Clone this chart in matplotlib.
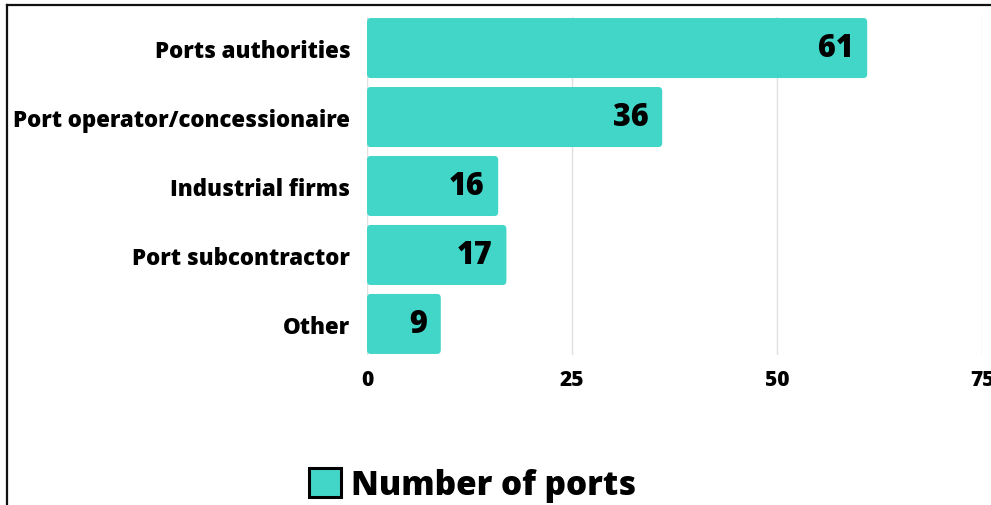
import matplotlib.pyplot as plt
from matplotlib.patches import FancyBboxPatch, Rectangle
from matplotlib.lines import Line2D

# data
categories = ["Ports authorities", "Port operator/concessionaire", "Industrial firms",
              "Port subcontractor", "Other"]
ports = [61, 36, 16, 17, 9]
xticks = [0, 25, 50, 75]

bar_color = "#42d6c9"
plt.rcParams["font.family"] = ["Open Sans", "DejaVu Sans"]
W = 800  # extra bold look

fig = plt.figure(figsize=(9.91, 5.06), dpi=100)
ax = fig.add_axes([367 / 991, 1 - 356 / 506, (982 - 367) / 991, 338 / 506])

bars = ax.barh(categories, ports, height=0.87, color=bar_color)
ax.set_xlim(0, 75)
ax.set_ylim(4.45, -0.45)

# swap the plain bars for ones with slightly rounded corners
for b in bars:
    x0, y0 = b.get_x(), b.get_y()
    w, h = b.get_width(), b.get_height()
    b.set_visible(False)
    ax.add_patch(FancyBboxPatch((x0, y0), w, h,
                                boxstyle="round,pad=0,rounding_size=0.45",
                                mutation_aspect=0.13, color=bar_color, lw=0, zorder=3))

for b, v in zip(bars, ports):
    ax.annotate(str(v), (b.get_width(), b.get_y() + b.get_height() / 2),
                xytext=(-10, 0), textcoords="offset points", ha="right", va="center",
                fontsize=22, fontweight=W, color="black", zorder=4)

ax.set_xticks(xticks)
ax.set_xticklabels([str(t) for t in xticks], fontsize=15, fontweight=W)
for lbl in ax.get_yticklabels():
    lbl.set_fontsize(16)
    lbl.set_fontweight(W)
ax.tick_params(axis="both", length=0)
ax.tick_params(axis="x", pad=10)
ax.tick_params(axis="y", pad=12)
ax.grid(axis="x", color="#e0e0e0", lw=1, zorder=0)
ax.set_axisbelow(True)
for s in ax.spines.values():
    s.set_visible(False)

# legend
handle = Rectangle((0, 0), 1, 1, facecolor=bar_color, edgecolor="black", lw=2.2)
fig.legend([handle], ["Number of ports"], loc="center", bbox_to_anchor=(0.477, 1 - 486 / 506),
           frameon=False, prop={"size": 24, "weight": W},
           handlelength=0.95, handleheight=0.95, handletextpad=0.3)

# outer frame (screenshot border, left and top)
fig.add_artist(Line2D([7 / 991, 7 / 991], [0, 1 - 6 / 506], transform=fig.transFigure,
                      color="#111111", lw=1.6))
fig.add_artist(Line2D([7 / 991, 1], [1 - 6 / 506, 1 - 6 / 506], transform=fig.transFigure,
                      color="#111111", lw=1.6))

fig.savefig("out.png", dpi=100)
